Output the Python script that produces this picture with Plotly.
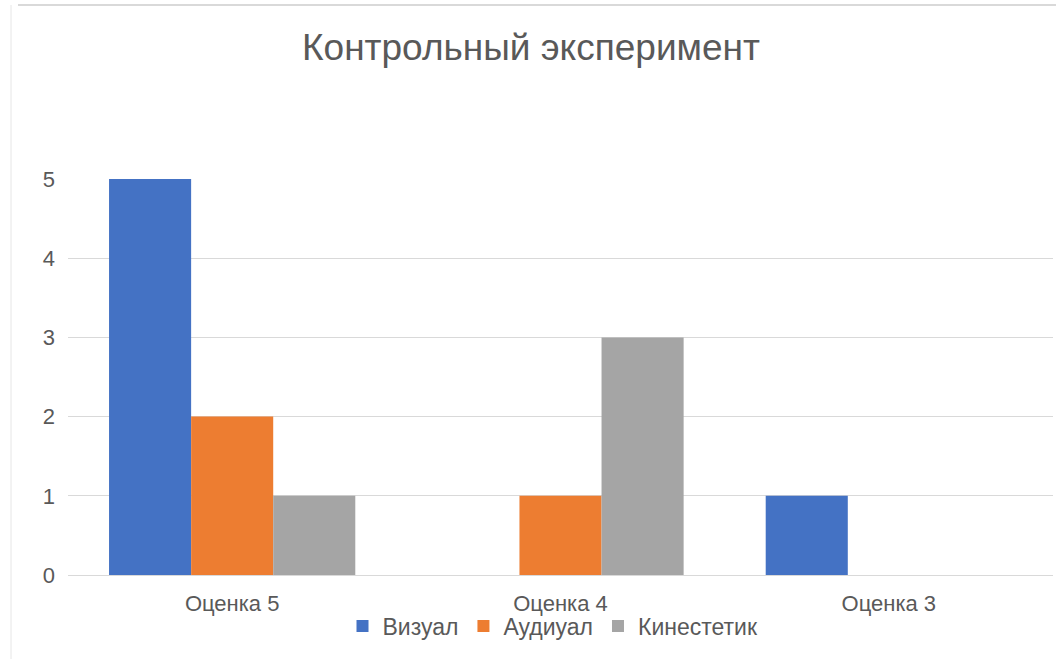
import plotly.graph_objects as go

categories = ["Оценка 5", "Оценка 4", "Оценка 3"]
series_names = ["Визуал", "Аудиуал", "Кинестетик"]
vizual = [5, 0, 1]
audial = [2, 1, 0]
kinestetik = [1, 3, 0]
colors = ["#4472C4", "#ED7D31", "#A5A5A5"]
y_ticks = [0, 1, 2, 3, 4, 5]

fig = go.Figure()
for name, vals, col in zip(series_names, [vizual, audial, kinestetik], colors):
    fig.add_trace(go.Bar(name=name, x=categories, y=vals, marker=dict(color=col, line=dict(width=0))))

font_family = "Liberation Sans, Arial, sans-serif"
H = 659
PB = 84
PH = 396
fig.update_layout(
    width=1056, height=H,
    paper_bgcolor="white", plot_bgcolor="white",
    margin=dict(l=68, r=3, t=179, b=PB),
    barmode="group", bargap=0.25, bargroupgap=0,
    title=dict(text="Контрольный эксперимент", x=531 / 1056, xanchor="center", y=1 - 47 / H, yanchor="middle",
               font=dict(family=font_family, size=37, color="#595959")),
    showlegend=True,
    legend=dict(orientation="h", x=(553 - 68) / 985, xanchor="center", y=-51 / PH, yanchor="middle",
                font=dict(family=font_family, size=23, color="#595959"), itemwidth=30,
                traceorder="normal", bgcolor="rgba(0,0,0,0)"),
    font=dict(family=font_family, color="#595959"),
)
fig.update_yaxes(range=[0, 5], tickvals=y_ticks, showgrid=True, gridcolor="#D9D9D9", gridwidth=1,
                 zeroline=True, zerolinecolor="#D9D9D9", zerolinewidth=1, showline=False,
                 tickfont=dict(size=22, color="#595959"), ticklabelstandoff=12)
fig.update_xaxes(showgrid=False, showline=False, tickfont=dict(size=22, color="#595959"),
                 ticks="", ticklabelstandoff=13)

# frame lines of the chart area
fig.add_shape(type="line", xref="paper", yref="paper", x0=-50 / 985, x1=990 / 985,
              y0=(H - PB - 5) / PH, y1=(H - PB - 5) / PH, line=dict(color="#D9D9D9", width=2))
fig.add_shape(type="line", xref="paper", yref="paper", x0=-57 / 985, x1=-57 / 985, y0=-PB / PH,
              y1=(H - PB - 5) / PH, line=dict(color="#E6E6E6", width=1))

fig.write_html("out.html", config={"displayModeBar": False},
               post_script="document.body.style.margin='0px';document.body.style.overflow='hidden';")
